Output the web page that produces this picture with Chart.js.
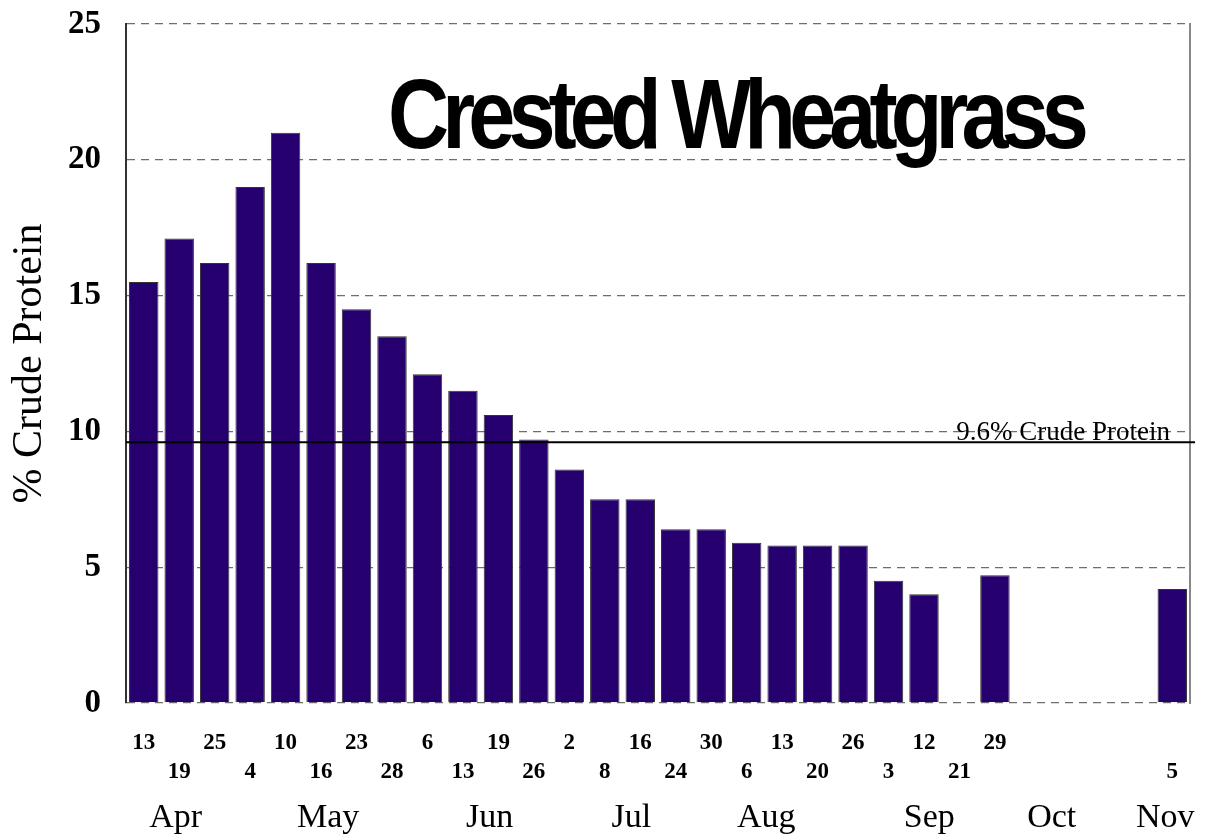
<!DOCTYPE html>
<html>
<head>
<meta charset="utf-8">
<script src="https://cdn.jsdelivr.net/npm/chart.js@4/dist/chart.umd.min.js"></script>
<style>
  html, body { margin: 0; padding: 0; background: #fff; }
  #wrap { width: 1213px; height: 837px; }
</style>
</head>
<body>
<div id="wrap"><canvas id="c" width="1213" height="837"></canvas></div>
<script>
// sampling dates (day of month), one per bar slot
const days = ['13', '19', '25', '4', '10', '16', '23', '28', '6', '13', '19', '26', '2', '8', '16',
              '24', '30', '6', '13', '20', '26', '3', '12', '21', '29', '', '', '', '', '5'];
// % crude protein for each date (null = no sample)
const protein = [15.5, 17.1, 16.2, 19.0, 21.0, 16.2, 14.5, 13.5, 12.1, 11.5, 10.6, 9.7, 8.6, 7.5, 7.5,
                 6.4, 6.4, 5.9, 5.8, 5.8, 5.8, 4.5, 4.0, null, 4.7, null, null, null, null, 4.2];
// month captions and where they sit along the date slots
const months = ['Apr', 'May', 'Jun', 'Jul', 'Aug', 'Sep', 'Oct', 'Nov'];
const monthAt = [0.9, 5.2, 9.75, 13.75, 17.55, 22.15, 25.6, 28.8];
const yTicks = [0, 5, 10, 15, 20, 25];
const threshold = 9.6;
const titleText = 'Crested Wheatgrass';

const serif = '"Liberation Serif", "Times New Roman", serif';

const refLine = {
    id: 'refLine',
    afterDatasetsDraw(chart) {
        const { ctx, chartArea, scales } = chart;
        const y = scales.y.getPixelForValue(threshold);
        ctx.save();
        ctx.strokeStyle = '#000';
        ctx.lineWidth = 2;
        ctx.beginPath();
        ctx.moveTo(chartArea.left, y);
        ctx.lineTo(chartArea.right + 5, y);
        ctx.stroke();
        ctx.fillStyle = '#000';
        ctx.font = '27px ' + serif;
        ctx.textAlign = 'right';
        ctx.textBaseline = 'alphabetic';
        ctx.fillText(threshold + '% Crude Protein', chartArea.right - 20, y - 2);
        ctx.restore();
    }
};

// big condensed title inside the plot
const bigTitle = {
    id: 'bigTitle',
    afterDatasetsDraw(chart) {
        const ctx = chart.ctx;
        ctx.save();
        ctx.font = 'bold 98px "Liberation Sans", Arial, sans-serif';
        ctx.letterSpacing = '-8px';
        const w = ctx.measureText(titleText).width;
        ctx.translate(388, 148);
        ctx.scale(694 / w, 1);
        ctx.fillStyle = '#000';
        ctx.textAlign = 'left';
        ctx.textBaseline = 'alphabetic';
        ctx.fillText(titleText, 0, 0);
        ctx.restore();
    }
};

new Chart(document.getElementById('c'), {
    type: 'bar',
    data: {
        labels: days,
        datasets: [{
            data: protein,
            backgroundColor: '#27006f',
            borderColor: '#333',
            borderWidth: 1,
            barPercentage: 0.83,
            categoryPercentage: 1
        }]
    },
    options: {
        responsive: false,
        animation: false,
        layout: { padding: { top: 24, right: 23, bottom: 0, left: 0 } },
        plugins: { legend: { display: false }, tooltip: { enabled: false } },
        scales: {
            x: {
                grid: { display: false },
                border: { display: false },
                ticks: {
                    autoSkip: false, maxRotation: 0, padding: 18, color: '#000',
                    font: { family: serif, size: 23, weight: 'bold', lineHeight: 1.26 },
                    callback: (v, i) => i % 2 === 0 ? [days[i], ''] : ['', days[i]]
                },
                afterFit: s => { s.height = 82; }
            },
            xm: {
                type: 'linear', position: 'bottom', weight: 1, min: -0.5, max: 29.5,
                offset: false,
                grid: { display: false, offset: false },
                border: { display: false },
                afterBuildTicks: s => { s.ticks = monthAt.map(v => ({ value: v })); },
                ticks: {
                    autoSkip: false, maxRotation: 0, padding: 5, color: '#000',
                    font: { family: serif, size: 34 },
                    callback: (v, i) => months[i]
                },
                afterFit: s => { s.height = 52; }
            },
            y: {
                min: 0, max: 25,
                afterBuildTicks: s => { s.ticks = yTicks.map(v => ({ value: v })); },
                grid: { color: '#6e6e6e', lineWidth: 1.3, drawTicks: false },
                border: { display: true, color: '#333', width: 2, dash: [8, 6] },
                ticks: { padding: 25, color: '#000', font: { family: serif, size: 33, weight: 'bold' } },
                title: {
                    display: true, text: '% Crude Protein', color: '#000',
                    font: { family: serif, size: 42 }, padding: { top: 5, bottom: 0 }
                },
                afterFit: s => { s.width = 126; s.paddingTop = 0; s.paddingBottom = 0; }
            },
            y2: {
                position: 'right', min: 0, max: 25,
                grid: { display: false },
                ticks: { display: false },
                border: { display: true, color: '#888', width: 2 },
                afterFit: s => { s.width = 0; s.paddingTop = 0; s.paddingBottom = 0; }
            }
        }
    },
    plugins: [refLine, bigTitle]
});
</script>
</body>
</html>
